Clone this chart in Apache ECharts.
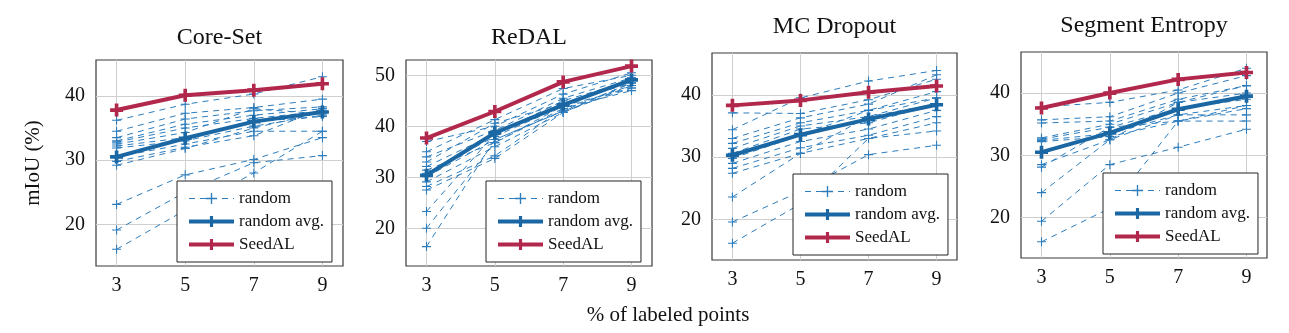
<!DOCTYPE html>
<html>
<head>
<meta charset="utf-8">
<script src="https://cdn.jsdelivr.net/npm/echarts@6/dist/echarts.min.js"></script>
<style>
  html, body { margin: 0; padding: 0; background: #fff; }
  #chart { width: 1289px; height: 333px; }
</style>
</head>
<body>
<div id="chart"></div>
<script>
// Share of labeled points (%)
const labeledPct = [3, 5, 7, 9];

// Panel titles
const panelTitles = ['Core-Set', 'ReDAL', 'MC Dropout', 'Segment Entropy'];

// Core-Set: individual random seeds, their average, and SeedAL
const coreSetRandom = [
  [36.2, 38.7, 40.3, 43.0],
  [34.5, 37.3, 38.2, 39.5],
  [33.5, 36.4, 37.7, 38.3],
  [33.0, 35.6, 37.0, 38.0],
  [32.8, 35.0, 36.5, 37.6],
  [32.5, 34.3, 38.0, 37.2],
  [32.2, 33.5, 36.0, 36.8],
  [31.9, 33.0, 35.3, 37.0],
  [30.5, 32.5, 34.5, 34.5],
  [29.8, 32.0, 33.8, 38.0],
  [29.2, 31.8, 35.0, 37.5],
  [23.1, 27.7, 30.1, 33.5],
  [19.1, 25.0, 29.6, 30.7],
  [16.1, 22.2, 28.0, 34.5]
];
const coreSetAvg = [30.5, 33.4, 36.0, 37.5];
const coreSetSeedAL = [37.8, 40.1, 40.9, 41.9];

// ReDAL
const redalRandom = [
  [37.0, 40.0, 46.3, 50.5],
  [35.0, 41.3, 47.4, 50.0],
  [34.0, 39.2, 45.5, 49.5],
  [33.0, 40.6, 44.5, 48.5],
  [32.1, 38.5, 45.0, 49.0],
  [31.4, 36.8, 43.5, 48.0],
  [30.8, 38.0, 44.0, 49.5],
  [30.1, 37.4, 43.0, 47.5],
  [29.1, 36.0, 42.7, 48.0],
  [28.2, 34.2, 43.5, 47.0],
  [27.5, 33.7, 42.7, 48.5],
  [23.3, 38.5, 44.5, 49.0],
  [20.0, 36.8, 44.0, 47.5],
  [16.4, 37.4, 43.0, 48.5]
];
const redalAvg = [30.4, 38.7, 44.2, 49.1];
const redalSeedAL = [37.7, 42.9, 48.7, 51.8];

// MC Dropout
const mcDropoutRandom = [
  [37.1, 37.0, 39.2, 42.5],
  [34.4, 39.5, 42.2, 43.9],
  [33.0, 36.3, 38.5, 43.2],
  [32.2, 35.5, 37.5, 40.5],
  [31.4, 35.0, 36.5, 39.5],
  [30.6, 34.5, 35.5, 38.5],
  [29.8, 33.5, 37.5, 39.5],
  [29.0, 32.5, 34.5, 37.5],
  [28.2, 31.5, 33.5, 36.5],
  [27.4, 30.6, 33.0, 35.5],
  [23.6, 30.6, 36.5, 38.5],
  [19.6, 24.5, 30.4, 31.9],
  [16.2, 22.5, 33.0, 34.2]
];
const mcDropoutAvg = [30.3, 33.6, 36.1, 38.4];
const mcDropoutSeedAL = [38.3, 39.1, 40.4, 41.4];

// Segment Entropy
const segEntropyRandom = [
  [37.8, 38.5, 40.5, 44.0],
  [35.7, 36.2, 40.0, 42.8],
  [35.2, 35.5, 39.0, 41.2],
  [32.8, 35.0, 38.5, 40.0],
  [32.6, 34.5, 37.5, 39.0],
  [32.4, 33.5, 36.5, 38.0],
  [32.2, 33.0, 35.5, 37.5],
  [28.5, 32.5, 36.5, 36.5],
  [28.1, 34.5, 35.5, 35.5],
  [24.0, 32.5, 38.5, 41.2],
  [19.4, 28.5, 31.3, 34.2],
  [16.1, 21.5, 35.5, 38.0]
];
const segEntropyAvg = [30.5, 33.6, 37.4, 39.5];
const segEntropySeedAL = [37.6, 40.0, 42.2, 43.3];

// y tick labels per panel
const yTicksCoreSet = [20, 30, 40];
const yTicksRedal = [20, 30, 40, 50];
const yTicksMcDropout = [20, 30, 40];
const yTicksSegEntropy = [20, 30, 40];

const panels = [
  { random: coreSetRandom, avg: coreSetAvg, seed: coreSetSeedAL, yTicks: yTicksCoreSet,
    yMin: 13.5, yMax: 45.6, grid: { left: 96, top: 60, width: 247, height: 206 },
    legend: { left: 177, top: 181 }, titleY: 38 },
  { random: redalRandom, avg: redalAvg, seed: redalSeedAL, yTicks: yTicksRedal,
    yMin: 12.6, yMax: 53.0, grid: { left: 406, top: 60, width: 246, height: 206 },
    legend: { left: 486, top: 181 }, titleY: 38 },
  { random: mcDropoutRandom, avg: mcDropoutAvg, seed: mcDropoutSeedAL, yTicks: yTicksMcDropout,
    yMin: 13.5, yMax: 46.7, grid: { left: 712, top: 53, width: 245, height: 207 },
    legend: { left: 793, top: 174 }, titleY: 27 },
  { random: segEntropyRandom, avg: segEntropyAvg, seed: segEntropySeedAL, yTicks: yTicksSegEntropy,
    yMin: 13.5, yMax: 46.6, grid: { left: 1021, top: 52, width: 246, height: 206 },
    legend: { left: 1103, top: 173 }, titleY: 26 }
];

const FONT = '"Liberation Serif", "DejaVu Serif", serif';
const C_RANDOM = '#2d7dbd';
const C_AVG = '#1a67a3';
const C_SEED = '#b2284d';
const PLUS_THIN = 'path://M4.4,0h1.2v4.4h4.4v1.2h-4.4v4.4h-1.2v-4.4h-4.4v-1.2h4.4z';
const PLUS_BOLD = 'path://M3.6,0h2.8v3.6h3.6v2.8h-3.6v3.6h-2.8v-3.6h-3.6v-2.8h3.6z';

const pairs = vals => labeledPct.map((x, k) => [x, vals[k]]);

const grids = [], xAxes = [], yAxes = [], series = [], legends = [], graphics = [];

panels.forEach((p, i) => {
  grids.push(Object.assign({ show: true, borderColor: '#3a3a3a', borderWidth: 1.2,
    backgroundColor: 'transparent' }, p.grid));

  xAxes.push({
    type: 'value', gridIndex: i, min: 2.4, max: 9.6,
    axisLine: { show: false },
    axisTick: { show: false, customValues: labeledPct },
    axisLabel: { customValues: labeledPct, fontFamily: FONT, fontSize: 20, color: '#111', margin: 10 },
    splitLine: { show: true, lineStyle: { color: '#cfcfcf', width: 1 } }
  });

  const yAxis = {
    type: 'value', gridIndex: i, min: p.yMin, max: p.yMax,
    axisLine: { show: false },
    axisTick: { show: false, customValues: p.yTicks },
    axisLabel: { customValues: p.yTicks, fontFamily: FONT, fontSize: 20, color: '#111', margin: 11 },
    splitLine: { show: true, lineStyle: { color: '#cfcfcf', width: 1 } }
  };
  if (i === 0) {
    Object.assign(yAxis, {
      name: 'mIoU (%)', nameLocation: 'middle', nameGap: 52,
      nameTextStyle: { fontFamily: FONT, fontSize: 21, color: '#111' }
    });
  }
  yAxes.push(yAxis);

  p.random.forEach(run => {
    series.push({
      type: 'line', name: 'random', xAxisIndex: i, yAxisIndex: i,
      data: pairs(run), symbol: PLUS_THIN, symbolSize: 9,
      lineStyle: { color: C_RANDOM, width: 1, type: [6, 5] },
      itemStyle: { color: C_RANDOM }, z: 2
    });
  });
  series.push({
    type: 'line', name: 'random avg.', xAxisIndex: i, yAxisIndex: i,
    data: pairs(p.avg), symbol: PLUS_BOLD, symbolSize: 13,
    lineStyle: { color: C_AVG, width: 4 }, itemStyle: { color: C_AVG }, z: 3
  });
  series.push({
    type: 'line', name: 'SeedAL', xAxisIndex: i, yAxisIndex: i,
    data: pairs(p.seed), symbol: PLUS_BOLD, symbolSize: 13,
    lineStyle: { color: C_SEED, width: 4 }, itemStyle: { color: C_SEED }, z: 3
  });

  legends.push({
    left: p.legend.left, top: p.legend.top, orient: 'vertical',
    data: ['random', 'random avg.', 'SeedAL'],
    selectedMode: false,
    itemWidth: 45, itemHeight: 14, itemGap: 6,
    padding: [9, 8, 9, 10],
    lineStyle: { width: 'inherit' },
    backgroundColor: '#fff', borderColor: '#222', borderWidth: 1, borderRadius: 0,
    textStyle: { fontFamily: FONT, fontSize: 17, color: '#111' }
  });

  graphics.push({
    type: 'text', x: p.grid.left + p.grid.width / 2, y: p.titleY,
    style: { text: panelTitles[i], font: '24px ' + FONT, fill: '#111',
      textAlign: 'center', textVerticalAlign: 'middle' }
  });
});

graphics.push({
  type: 'text', x: 668, y: 315,
  style: { text: '% of labeled points', font: '21px ' + FONT, fill: '#111',
    textAlign: 'center', textVerticalAlign: 'middle' }
});

const chart = echarts.init(document.getElementById('chart'));
chart.setOption({
  animation: false,
  backgroundColor: '#fff',
  grid: grids,
  xAxis: xAxes,
  yAxis: yAxes,
  legend: legends,
  series: series,
  graphic: graphics
});
</script>
</body>
</html>
